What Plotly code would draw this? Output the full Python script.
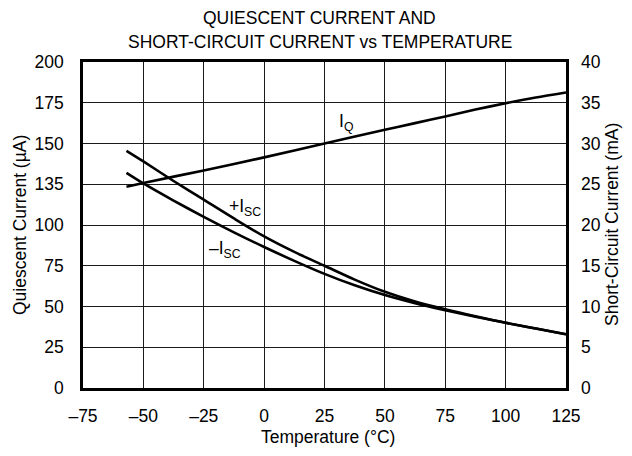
import plotly.graph_objects as go

# Data
temp_iq = [-57, -50, -25, 0, 25, 50, 62.5, 75, 87.5, 100, 112.5, 125]
iq_uA = [123.5, 125.8, 133.5, 141.5, 150.0, 158.4, 162.5, 166.6, 170.8, 174.7, 178.2, 181.3]

temp_isc = [-57, -50, -37.5, -25, -12.5, 0, 12.5, 25, 37.5, 50, 62.5, 75, 87.5, 100, 112.5, 125]
isc_pos_mA = [29.1, 27.8, 25.4, 23.1, 20.8, 18.6, 16.7, 15.0, 13.3, 11.8, 10.6, 9.65, 8.8, 8.0, 7.3, 6.6]
isc_neg_mA = [26.4, 25.1, 23.0, 21.0, 19.1, 17.3, 15.6, 14.0, 12.6, 11.4, 10.4, 9.55, 8.75, 8.0, 7.3, 6.6]

x_ticks = [-75, -50, -25, 0, 25, 50, 75, 100, 125]
x_ticktext = ["\u201375", "\u201350", "\u201325", "0", "25", "50", "75", "100", "125"]
yl_ticks = [0, 25, 50, 75, 100, 125, 150, 175, 200]
yl_ticktext = ["0", "25", "50", "75", "100", "135", "150", "175", "200"]
yr_ticks = [0, 5, 10, 15, 20, 25, 30, 35, 40]

title_lines = ["QUIESCENT CURRENT AND", "SHORT-CIRCUIT CURRENT vs TEMPERATURE"]
x_title = "Temperature (\u00b0C)"
yl_title = "Quiescent Current (\u00b5A)"
yr_title = "Short-Circuit Current (mA)"

FONT = "Liberation Sans, Arial, sans-serif"
FS = 17.5
LINE = dict(color="black", width=2.6, shape="spline", smoothing=0.8)

fig = go.Figure()
fig.add_trace(go.Scatter(x=temp_iq, y=iq_uA, mode="lines", line=LINE, name="IQ", yaxis="y"))
fig.add_trace(go.Scatter(x=temp_isc, y=isc_pos_mA, mode="lines", line=LINE, name="+ISC", yaxis="y2"))
fig.add_trace(go.Scatter(x=temp_isc, y=isc_neg_mA, mode="lines", line=LINE, name="-ISC", yaxis="y2"))

fig.update_layout(
    width=616, height=440,
    margin=dict(l=75, r=58, t=54, b=60, autoexpand=False),
    paper_bgcolor="white", plot_bgcolor="white",
    showlegend=False,
    font=dict(family=FONT, size=FS, color="black"),
    xaxis=dict(range=[-75, 125], tickvals=x_ticks, ticktext=x_ticktext,
               showgrid=True, gridcolor="#1a1a1a", gridwidth=1,
               showline=True, linecolor="black", linewidth=2.6, mirror=True,
               ticks="", zeroline=False, automargin=False, ticklabelstandoff=10),
    yaxis=dict(range=[0, 200], tickvals=yl_ticks, ticktext=yl_ticktext,
               showgrid=True, gridcolor="#1a1a1a", gridwidth=1,
               showline=True, linecolor="black", linewidth=2.6, mirror=True,
               ticks="", zeroline=False, automargin=False, ticklabelstandoff=13),
    yaxis2=dict(range=[0, 40], tickvals=yr_ticks, overlaying="y", side="right",
                showgrid=False, showline=False, ticks="", zeroline=False,
                automargin=False, ticklabelstandoff=14),
)

fig.add_annotation(text=title_lines[0], xref="paper", yref="paper", x=0.49, y=1.0,
                   yanchor="middle", yshift=44, showarrow=False)
fig.add_annotation(text=title_lines[1], xref="paper", yref="paper", x=0.49, y=1.0,
                   yanchor="middle", yshift=20.5, showarrow=False)
fig.add_annotation(text=x_title, xref="paper", yref="paper", x=0.507, y=0.0,
                   yanchor="middle", yshift=-49, showarrow=False)
fig.add_annotation(text=yl_title, xref="paper", yref="paper", x=0.0, y=0.5,
                   xanchor="center", yanchor="middle", xshift=-63, textangle=-90, showarrow=False)
fig.add_annotation(text=yr_title, xref="paper", yref="paper", x=1.0, y=0.5,
                   xanchor="center", yanchor="middle", xshift=46, textangle=-90, showarrow=False)

fig.add_annotation(text="I<sub>Q</sub>", x=34, y=163, xref="x", yref="y", showarrow=False)
fig.add_annotation(text="+I<sub>SC</sub>", x=-8, y=110.5, xref="x", yref="y", showarrow=False)
fig.add_annotation(text="\u2013I<sub>SC</sub>", x=-16, y=85, xref="x", yref="y", showarrow=False)

fig.write_html("out.html")
